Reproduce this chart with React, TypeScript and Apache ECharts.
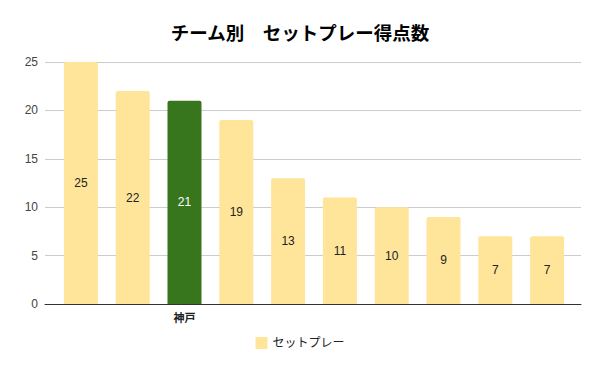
import React, { useEffect, useRef } from "react";
import * as echarts from "echarts";

const categories = ["", "", "神戸", "", "", "", "", "", "", ""];
const values = [25, 22, 21, 19, 13, 11, 10, 9, 7, 7];
const highlightIndex = 2;
const seriesName = "セットプレー";
const titleText = "チーム別　セットプレー得点数";
const yTicks = { min: 0, max: 25, interval: 5 };

const FONT = "Arial, 'Liberation Sans', 'Noto Sans CJK JP', sans-serif";

export default function App() {
  const ref = useRef<HTMLDivElement>(null);
  useEffect(() => {
    if (!ref.current) return;
    const chart = echarts.init(ref.current, undefined, { renderer: "svg" });
    const data = values.map((v, i) =>
      i === highlightIndex
        ? { value: v, itemStyle: { color: "#38761d" }, label: { color: "#ffffff" } }
        : { value: v }
    );
    chart.setOption({
      animation: false,
      backgroundColor: "#ffffff",
      textStyle: { fontFamily: FONT },
      title: {
        text: titleText,
        left: "center",
        top: 19,
        textStyle: { fontSize: 18.5, fontWeight: "bold", color: "#000000", fontFamily: FONT },
      },
      legend: {
        data: [seriesName],
        bottom: 17,
        left: "center",
        icon: "rect",
        itemWidth: 12,
        itemHeight: 12,
        itemGap: 8,
        textStyle: { fontSize: 12, color: "#222222", fontFamily: FONT },
      },
      grid: [
        { left: 45, right: 19, top: 62, bottom: 67 },
        { left: 55, right: 27, top: 62, bottom: 67 },
      ],
      xAxis: [
        {
          type: "category",
          gridIndex: 0,
          data: [""],
          axisLine: { show: true, lineStyle: { color: "#333333", width: 1 } },
          axisTick: { show: false },
          axisLabel: { show: false },
        },
        {
          type: "category",
          gridIndex: 1,
          data: categories,
          axisLine: { show: false },
          axisTick: { show: false },
          axisLabel: {
            interval: 0,
            margin: 8,
            fontSize: 11,
            fontWeight: "bold",
            color: "#222222",
            fontFamily: FONT,
          },
        },
      ],
      yAxis: [
        {
          type: "value",
          gridIndex: 0,
          min: yTicks.min,
          max: yTicks.max,
          interval: yTicks.interval,
          axisLine: { show: false },
          axisTick: { show: false },
          axisLabel: { margin: 7, fontSize: 12, color: "#444444", fontFamily: FONT },
          splitLine: { lineStyle: { color: "#cccccc", width: 1 } },
        },
        {
          type: "value",
          gridIndex: 1,
          min: yTicks.min,
          max: yTicks.max,
          interval: yTicks.interval,
          show: false,
          splitLine: { show: false },
        },
      ],
      series: [
        {
          name: seriesName,
          type: "bar",
          xAxisIndex: 1,
          yAxisIndex: 1,
          barWidth: 34,
          itemStyle: { color: "#ffe599", borderRadius: [2, 2, 0, 0] },
          label: {
            show: true,
            position: "inside",
            fontSize: 12,
            color: "#222222",
            fontFamily: FONT,
          },
          data,
        },
      ],
    });
    return () => chart.dispose();
  }, []);
  return <div ref={ref} style={{ width: 600, height: 371, margin: -8 }} />;
}
